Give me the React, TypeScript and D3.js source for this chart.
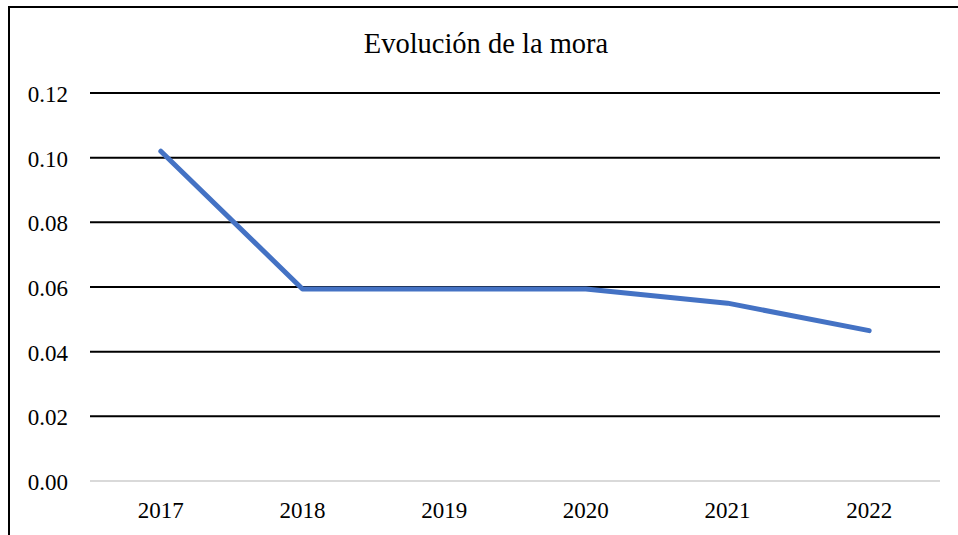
import React from "react";
import * as d3 from "d3";

const categories = ["2017", "2018", "2019", "2020", "2021", "2022"];
const values = [0.102, 0.0594, 0.0594, 0.0594, 0.055, 0.0465];
const yTicks = [0, 0.02, 0.04, 0.06, 0.08, 0.1, 0.12];
const title = "Evolución de la mora";

export default function App() {
  const W = 958, H = 535;
  const left = 90, right = 940, top = 93, bottom = 481;
  const x = d3.scaleBand<string>().domain(categories).range([left, right]);
  const y = d3.scaleLinear().domain([0, 0.12]).range([bottom, top]);
  const line = d3.line<number>()
    .x((_, i) => (x(categories[i]) as number) + x.bandwidth() / 2)
    .y((d) => y(d));
  const font = "'Liberation Serif', 'Times New Roman', serif";
  return (
    <svg width={W} height={H} style={{ position: "absolute", left: 0, top: 0, background: "#fff" }}>
      <rect x={9} y={7} width={960} height={560} fill="#fff" stroke="#000" strokeWidth={2} />
      <text x={486} y={53} textAnchor="middle" fontFamily={font} fontSize={28.5} fill="#000">{title}</text>
      {yTicks.map((t) => (
        <g key={t}>
          <line x1={left} x2={right} y1={y(t)} y2={y(t)} stroke={t === 0 ? "#d9d9d9" : "#000"} strokeWidth={2} />
          <text x={68} y={y(t) + 9} textAnchor="end" fontFamily={font} fontSize={23} fill="#000">{t.toFixed(2)}</text>
        </g>
      ))}
      {categories.map((c) => (
        <text key={c} x={(x(c) as number) + x.bandwidth() / 2} y={518} textAnchor="middle" fontFamily={font} fontSize={23} fill="#000">{c}</text>
      ))}
      <path d={line(values) || ""} fill="none" stroke="#4472C4" strokeWidth={5} strokeLinecap="round" strokeLinejoin="round" />
    </svg>
  );
}
